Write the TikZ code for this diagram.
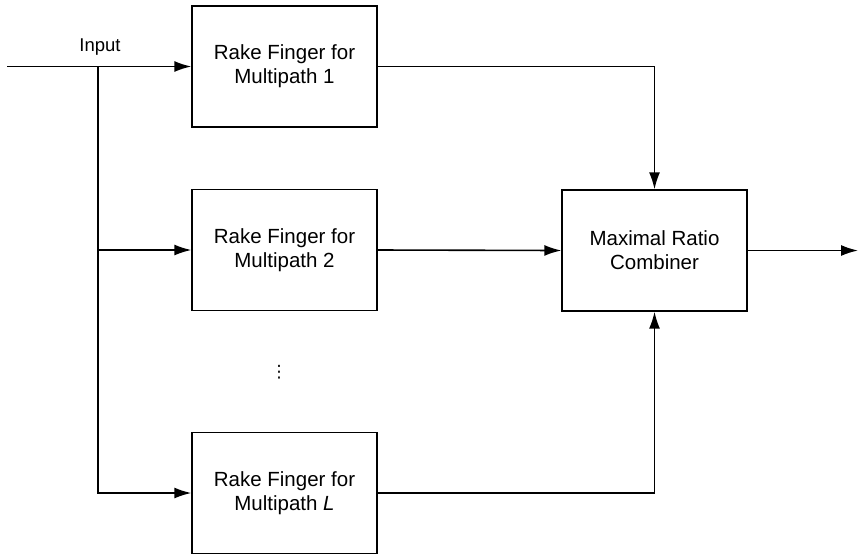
\documentclass[tikz,border=0pt]{standalone}
\usepackage{fontspec}
\setmainfont{Liberation Sans}
\newfontfamily\symfont{DejaVu Sans}
\usetikzlibrary{arrows.meta}
\begin{document}
\begin{tikzpicture}[x=1pt,y=-1pt,
  blk/.style={draw, line width=1.4pt, minimum width=185pt, minimum height=121pt,
              align=center, inner sep=0pt, font=\fontsize{20.5}{24}\selectfont},
  lbl/.style={inner sep=0pt, font=\fontsize{18.5}{22}\selectfont},
  wire/.style={line width=1.6pt},
  arr/.style={wire, -{Latex[length=17pt,width=11pt]}}]
\useasboundingbox (0,0) rectangle (858,555);

% rake fingers and combiner
\node[blk] (f1) at (284.5,66.5) {Rake Finger for\\Multipath 1};
\node[blk] (f2) at (284.5,250) {Rake Finger for\\Multipath 2};
\node[blk] (fL) at (284.5,493) {Rake Finger for\\Multipath \textit{L}};
\node[blk] (comb) at (654.5,250.5) {Maximal Ratio\\Combiner};

% labels
\node[lbl] (inlbl) at (100,47) {Input};
\node[inner sep=0pt, font=\symfont\fontsize{17}{20}\selectfont] (dots) at (279,372) {⋮};

% input distribution
\coordinate (in) at (7,66.5);
\coordinate (br) at (98,66.5);
\coordinate (out) at (858,250.5);
\draw[arr] (in) -- (f1.west);
\draw[wire] (br) -- (br |- fL.west);
\draw[arr] (br) |- (f2.west);
\draw[arr] (br) |- (fL.west);

% finger outputs into the combiner
\draw[arr] (f1.east) -| (comb.north);
\draw[arr] (f2.east) -- (comb.west);
\draw[arr] (fL.east) -| (comb.south);
\draw[arr] (comb.east) -- (out);
\end{tikzpicture}
\end{document}
